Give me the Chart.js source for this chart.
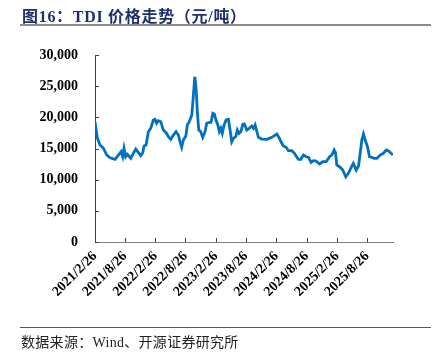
<!DOCTYPE html>
<html>
<head>
<meta charset="utf-8">
<script src="https://cdn.jsdelivr.net/npm/chart.js@4"></script>
<style>
  html, body { margin: 0; padding: 0; background: #fff; }
  body { width: 436px; height: 360px; position: relative; overflow: hidden; }
  #chartBox { position: absolute; left: 0; top: 0; width: 436px; height: 360px; }
  .title {
    position: absolute; left: 22px; top: 3px;
    font: bold 16px "Liberation Serif", "Noto Sans CJK SC", serif;
    color: #1f2f6b; white-space: nowrap; letter-spacing: 0.7px;
  }
  .rule-top { position: absolute; left: 20px; width: 411px; top: 24px; height: 2px; background: #8c8c8c; }
  .rule-bottom { position: absolute; left: 20px; width: 411px; top: 327px; height: 1px; background: #555; }
  .source {
    position: absolute; left: 21px; top: 331px;
    font: 14px "Liberation Serif", "Noto Sans CJK SC", serif;
    color: #222; white-space: nowrap; letter-spacing: 0.3px;
  }
</style>
</head>
<body>
<div id="chartBox"><canvas id="chart"></canvas></div>
<div class="title">图16：TDI 价格走势（元/吨）</div>
<div class="rule-top"></div>
<div class="rule-bottom"></div>
<div class="source">数据来源：Wind、开源证券研究所</div>

<script>
// TDI 价格（元/吨），按日期读图估算
const priceDates = [
  '2021-02-26', '2021-03-12', '2021-03-28', '2021-04-17', '2021-05-08', '2021-05-28', '2021-06-27', '2021-07-17',
  '2021-08-02', '2021-08-12', '2021-08-20', '2021-08-30', '2021-09-09', '2021-09-30', '2021-10-15', '2021-10-30',
  '2021-11-14', '2021-11-29', '2021-12-11', '2021-12-19', '2021-12-31', '2022-01-14', '2022-01-28', '2022-02-13',
  '2022-02-23', '2022-03-05', '2022-03-15', '2022-03-30', '2022-04-14', '2022-05-01', '2022-05-15', '2022-05-29',
  '2022-06-14', '2022-06-30', '2022-07-14', '2022-07-24', '2022-08-03', '2022-08-13', '2022-08-28', '2022-09-06',
  '2022-09-18', '2022-10-03', '2022-10-12', '2022-10-21', '2022-10-29', '2022-11-06', '2022-11-14', '2022-11-26',
  '2022-12-08', '2022-12-22', '2023-01-01', '2023-01-17', '2023-01-27', '2023-02-07', '2023-02-16', '2023-02-26',
  '2023-03-09', '2023-03-18', '2023-03-27', '2023-04-05', '2023-04-16', '2023-04-28', '2023-05-12', '2023-05-22',
  '2023-06-01', '2023-06-11', '2023-06-25', '2023-07-05', '2023-07-15', '2023-07-26', '2023-08-07', '2023-08-16',
  '2023-08-31', '2023-09-14', '2023-09-30', '2023-10-10', '2023-10-20', '2023-11-09', '2023-11-29', '2023-12-30',
  '2024-01-29', '2024-02-28', '2024-03-15', '2024-03-29', '2024-04-08', '2024-04-24', '2024-05-08', '2024-05-29',
  '2024-06-13', '2024-07-07', '2024-07-22', '2024-08-07', '2024-08-23', '2024-09-06', '2024-09-22', '2024-10-06',
  '2024-10-22', '2024-11-11', '2024-12-02', '2024-12-22', '2025-01-11', '2025-01-25', '2025-02-08', '2025-02-16',
  '2025-02-24', '2025-03-12', '2025-04-01', '2025-04-19', '2025-05-05', '2025-05-26', '2025-06-04', '2025-06-21',
  '2025-07-05', '2025-07-15', '2025-07-25', '2025-08-04', '2025-08-14', '2025-08-28', '2025-09-09', '2025-09-23',
  '2025-10-07', '2025-10-24', '2025-11-13', '2025-12-02', '2025-12-19', '2026-01-02', '2026-01-17', '2026-01-29'
];
const priceValues = [
  19300, 16700, 15560, 15080, 13950, 13520, 13260, 13950,
  14490, 13680, 15030, 13680, 14070, 13430, 14230, 14920,
  14390, 13850, 14330, 15400, 15560, 17700, 18240, 19570,
  19680, 19040, 19460, 19300, 17960, 17530, 16890, 16470,
  17160, 17700, 17160, 16090, 15190, 16360, 17000, 18770,
  19300, 20370, 23300, 26510, 24650, 20640, 17960, 17700,
  16790, 17700, 19040, 19200, 19200, 20640, 20530, 19570,
  18770, 17700, 18240, 17430, 18770, 19570, 19680, 17960,
  16090, 16630, 16890, 17960, 17430, 17700, 18880, 18930,
  17960, 18240, 18610, 18240, 18770, 16790, 16520, 16470,
  16790, 17320, 16630, 15830, 15400, 15190, 14650, 14650,
  14230, 13260, 13260, 13950, 13680, 13580, 12780, 13040,
  12990, 12510, 12880, 12880, 13680, 13950, 14760, 14330,
  12350, 12080, 11550, 10470, 11020, 12190, 12620, 11550,
  12190, 14230, 16360, 17320, 16360, 15290, 13680, 13580,
  13430, 13430, 13950, 14230, 14760, 14600, 14230, 13950
];
const xTickLabels = [
  '2021/2/26', '2021/8/26', '2022/2/26', '2022/8/26', '2023/2/26',
  '2023/8/26', '2024/2/26', '2024/8/26', '2025/2/26', '2025/8/26'
];
const yTicks = [0, 5000, 10000, 15000, 20000, 25000, 30000];

const DAY = 24 * 3600 * 1000;
const startTime = Date.UTC(2021, 1, 26);

function toDays(str) {
  const p = str.split(/[-\/]/).map(Number);
  return Math.round((Date.UTC(p[0], p[1] - 1, p[2]) - startTime) / DAY);
}

const points = priceDates.map((d, i) => ({ x: toDays(d), y: priceValues[i] }));
const xTickDays = xTickLabels.map(toDays);
const labelByDay = {};
xTickDays.forEach((d, i) => { labelByDay[d] = xTickLabels[i]; });

// 刻度线朝内（向图内）绘制
const innerTicks = {
  id: 'innerTicks',
  afterDraw(chart) {
    const ctx = chart.ctx;
    const { x, y } = chart.scales;
    const area = chart.chartArea;
    ctx.save();
    ctx.strokeStyle = '#404040';
    ctx.lineWidth = 1;
    ctx.beginPath();
    yTicks.forEach(v => {
      const py = Math.round(y.getPixelForValue(v)) + 0.5;
      ctx.moveTo(area.left, py);
      ctx.lineTo(area.left + 4, py);
    });
    xTickDays.forEach(d => {
      const px = Math.round(x.getPixelForValue(d)) + 0.5;
      ctx.moveTo(px, area.bottom);
      ctx.lineTo(px, area.bottom - 4);
    });
    ctx.stroke();
    ctx.restore();
  }
};

const tickFont = { family: '"Liberation Serif", "Times New Roman", serif', weight: 'bold' };

new Chart(document.getElementById('chart'), {
  type: 'line',
  data: {
    datasets: [{
      label: 'TDI',
      data: points,
      borderColor: '#0070c0',
      borderWidth: 2.8,
      pointRadius: 0,
      tension: 0,
      fill: false,
    }],
  },
  options: {
    responsive: true,
    maintainAspectRatio: false,
    animation: false,
    layout: { padding: { left: 0, right: 43, top: 55, bottom: 58 } },
    scales: {
      x: {
        type: 'linear',
        min: 0,
        max: points[points.length - 1].x,
        afterFit(scale) { scale.height = 60; },
        afterBuildTicks(scale) { scale.ticks = xTickDays.map(v => ({ value: v })); },
        border: { display: true, color: '#808080', width: 1 },
        grid: { display: false, drawTicks: false },
        ticks: {
          autoSkip: false,
          minRotation: 45,
          maxRotation: 45,
          padding: 6,
          color: '#000',
          font: { ...tickFont, size: 14 },
          callback: v => labelByDay[v] || '',
        },
      },
      y: {
        min: 0,
        max: 30000,
        afterFit(scale) { scale.width = 95; },
        afterBuildTicks(scale) { scale.ticks = yTicks.map(v => ({ value: v })); },
        border: { display: true, color: '#404040', width: 1 },
        grid: { display: false, drawTicks: false },
        ticks: {
          padding: 17,
          color: '#000',
          font: { ...tickFont, size: 14 },
          callback: v => v.toLocaleString('en-US'),
        },
      },
    },
    plugins: {
      legend: { display: false },
      tooltip: { enabled: false },
    },
  },
  plugins: [innerTicks],
});
</script>
</body>
</html>
